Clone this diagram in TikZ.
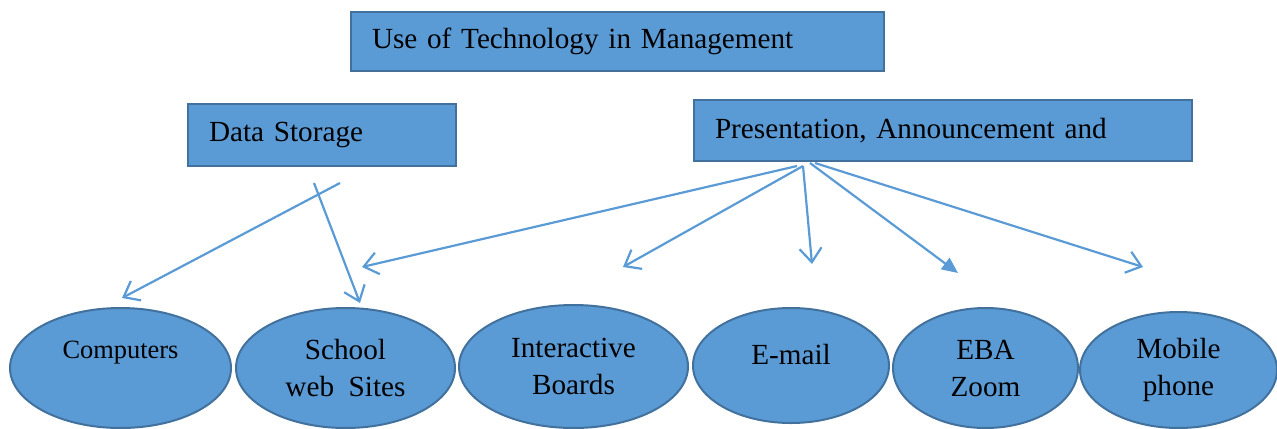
\documentclass[tikz,border=0pt]{standalone}
\usepackage{fontspec}
\setmainfont{Liberation Serif}
\usetikzlibrary{shapes.geometric, arrows.meta}
\definecolor{boxfill}{HTML}{5B9BD5}
\definecolor{boxline}{HTML}{41719C}
\definecolor{arrowblue}{HTML}{5B9BD5}

\begin{document}
\begin{tikzpicture}[
        x=0.5pt, y=-0.5pt,
        every node/.style={font=\fontsize{14.6}{18.5}\selectfont, inner sep=0pt},
        box/.style={draw=boxline, fill=boxfill, line width=1pt, anchor=north west, align=left, inner xsep=10.5pt},
        oval/.style={ellipse, draw=boxline, fill=boxfill, line width=1pt, align=center},
        tip/.style={draw=arrowblue, line width=1.1pt, -{Straight Barb[length=7pt,width=11pt]}},
        fulltip/.style={draw=arrowblue, line width=1.1pt, -{Triangle[length=8pt,width=7pt]}}
    ]
      \useasboundingbox (0,0) rectangle (1277,428);

      \node[box, text width=245.5pt, minimum height=29.5pt] (title) at (350,11) {Use of Technology in Management};
      \node[box, text width=113pt, minimum height=31pt] (storage) at (187,103) {Data Storage};
      \node[box, text width=228pt, minimum height=30.5pt] (present) at (693,99) {Presentation, Announcement and};

      \node[oval, minimum width=110.5pt, minimum height=60pt, font=\fontsize{13.2}{18.5}\selectfont] (computers) at (120.5,368) {Computers\\ \mbox{}};
      \node[oval, minimum width=109.5pt, minimum height=60pt] (school) at (345.5,368) {School\\ web\ \ Sites};
      \node[oval, minimum width=114.5pt, minimum height=61.5pt] (boards) at (573.5,366.5) {Interactive\\ Boards};
      \node[oval, minimum width=98pt, minimum height=57.5pt] (email) at (791,365.5) {E-mail\\[-7pt] \mbox{}};
      \node[oval, minimum width=92.5pt, minimum height=60pt] (zoom) at (985.5,368) {EBA\\ Zoom};
      \node[oval, minimum width=98.5pt, minimum height=58pt] (mobile) at (1178.5,370) {Mobile\\ phone};

      % arrows under Data Storage
      \coordinate (ds-a) at (340,183);
      \coordinate (ds-b) at (314,183);
      \coordinate (to-comp) at (122,298);
      \coordinate (to-school) at (360,303);
      \draw [tip] (ds-a) -- (to-comp);
      \draw [tip] (ds-b) -- (to-school);

      % arrows under Presentation
      \coordinate (pr-a) at (797,166);
      \coordinate (pr-b) at (803,166);
      \coordinate (pr-c) at (810,163);
      \coordinate (pr-d) at (815,163);
      \coordinate (to-school2) at (362,267);
      \coordinate (to-boards) at (623,267);
      \coordinate (to-email) at (812,264);
      \coordinate (to-zoom) at (958,273);
      \coordinate (to-mobile) at (1143,267);
      \draw [tip] (pr-a) -- (to-school2);
      \draw [tip] (pr-b) -- (to-boards);
      \draw [tip] (pr-b) -- (to-email);
      \draw [fulltip] (pr-c) -- (to-zoom);
      \draw [tip] (pr-d) -- (to-mobile);
\end{tikzpicture}
\end{document}
